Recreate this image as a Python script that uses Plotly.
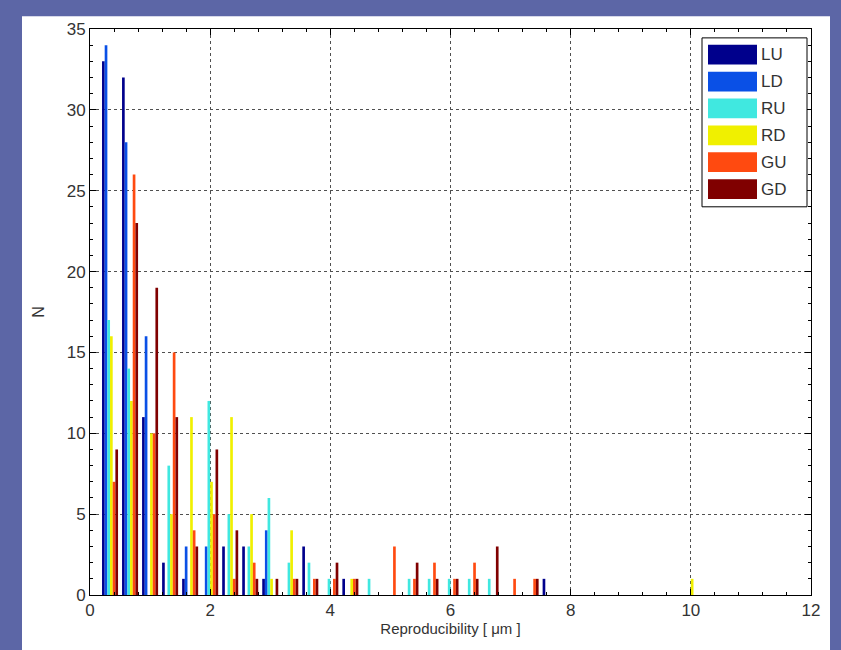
import plotly.graph_objects as go

# Bin centres (um) and counts per series
bin_centers = [k / 3 for k in range(1, 31)]
series_names = ["LU", "LD", "RU", "RD", "GU", "GD"]

LU = [33, 32, 11, 2, 1, 0, 3, 3, 1, 0, 3, 0, 1, 0, 0, 0, 0, 0, 0, 0, 0, 0, 1, 0, 0, 0, 0, 0, 0, 0]
LD = [34, 28, 16, 0, 3, 3, 0, 0, 4, 0, 0, 0, 0, 0, 0, 0, 0, 0, 0, 0, 0, 0, 0, 0, 0, 0, 0, 0, 0, 0]
RU = [17, 14, 0, 8, 0, 12, 5, 3, 6, 2, 2, 1, 0, 1, 0, 1, 1, 1, 1, 1, 0, 0, 0, 0, 0, 0, 0, 0, 0, 0]
RD = [16, 12, 10, 5, 11, 7, 11, 5, 1, 4, 0, 0, 1, 0, 0, 0, 0, 0, 0, 0, 0, 0, 0, 0, 0, 0, 0, 0, 0, 1]
GU = [7, 26, 10, 15, 4, 5, 1, 2, 0, 1, 1, 1, 1, 0, 3, 1, 2, 1, 2, 0, 1, 1, 0, 0, 0, 0, 0, 0, 0, 0]
GD = [9, 23, 19, 11, 3, 9, 4, 1, 1, 1, 1, 2, 1, 0, 0, 2, 1, 1, 1, 3, 0, 1, 0, 0, 0, 0, 0, 0, 0, 0]
series_values = [LU, LD, RU, RD, GU, GD]
colors = ["#00008c", "#0a50e6", "#40e8e0", "#f0f000", "#ff4a10", "#800000"]

x_ticks = [0, 2, 4, 6, 8, 10, 12]
y_ticks = [0, 5, 10, 15, 20, 25, 30, 35]

BG = "#5c66a6"
OFF = 8  # page body margin offset
W, H = 841 - OFF, 650 - OFF
L, R, T, B = 82, 30, 14, 55
pw, ph = W - L - R, H - T - B


def px(xp):
    # window pixel -> paper x
    return (xp - OFF - L) / pw


def py(yp):
    # window pixel -> paper y
    return (H - B - (yp - OFF)) / ph


FONT = "Liberation Sans, Arial, sans-serif"

fig = go.Figure()
for name, vals, col in zip(series_names, series_values, colors):
    fig.add_trace(go.Bar(x=bin_centers, y=vals, name=name, marker=dict(color=col, line=dict(width=0)),
                         showlegend=False))

shapes = []
# white figure panel on the slide background
shapes.append(dict(type="rect", xref="paper", yref="paper", layer="below",
                   x0=px(22), x1=px(830), y0=py(660), y1=py(9),
                   fillcolor="white", line=dict(width=0)))
# legend box and patches
shapes.append(dict(type="rect", xref="paper", yref="paper", layer="above",
                   x0=px(702), x1=px(807), y0=py(202), y1=py(31),
                   fillcolor="white", line=dict(color="black", width=1)))
annotations = []
row_top = 38
row_step = 27.2
for i, (name, col) in enumerate(zip(series_names, colors)):
    y0 = row_top + i * row_step
    shapes.append(dict(type="rect", xref="paper", yref="paper", layer="above",
                       x0=px(708), x1=px(757), y0=py(y0 + 20), y1=py(y0),
                       fillcolor=col, line=dict(width=0)))
    annotations.append(dict(xref="paper", yref="paper", x=px(759), y=py(y0 + 10),
                            text=name, showarrow=False, xanchor="left", yanchor="middle",
                            font=dict(family=FONT, size=17, color="#333333")))

fig.update_layout(
    width=W, height=H,
    margin=dict(l=L, r=R, t=T, b=B),
    paper_bgcolor=BG,
    plot_bgcolor="white",
    barmode="group", bargap=0.2, bargroupgap=0,
    shapes=shapes, annotations=annotations,
    font=dict(family=FONT, size=17, color="#333333"),
    xaxis=dict(range=[0, 12], tickvals=x_ticks, ticks="inside", ticklen=6, tickcolor="black",
               showline=True, linecolor="black", linewidth=1, mirror="allticks",
               showgrid=True, gridcolor="#505050", griddash="dot", gridwidth=1,
               zeroline=False, tickfont=dict(size=17, color="#333333"),
               minor=dict(dtick=0.4, ticks="inside", ticklen=3, tickcolor="black", showgrid=False),
               title=dict(text="Reproducibility [ μm ]", standoff=0,
                          font=dict(size=15, color="#333333"))),
    yaxis=dict(range=[0, 35], tickvals=y_ticks, ticks="inside", ticklen=6, tickcolor="black",
               showline=True, linecolor="black", linewidth=1, mirror="allticks",
               showgrid=True, gridcolor="#505050", griddash="dot", gridwidth=1,
               zeroline=False, tickfont=dict(size=17, color="#333333"),
               minor=dict(dtick=1, ticks="inside", ticklen=3, tickcolor="black", showgrid=False),
               title=dict(text="N", standoff=18, font=dict(size=16, color="#333333"))),
)

fig.write_html("out.html", post_script="document.body.style.background='%s';" % BG)
